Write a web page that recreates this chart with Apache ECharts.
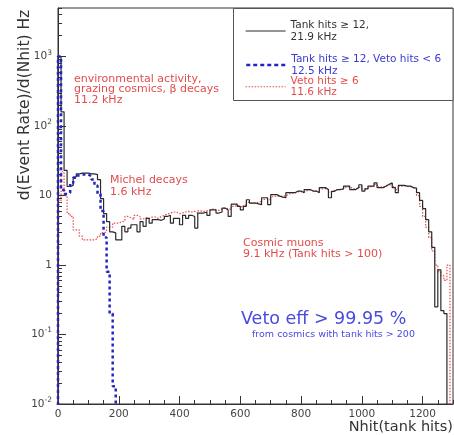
<!DOCTYPE html>
<html><head><meta charset="utf-8">
<script src="https://cdn.jsdelivr.net/npm/echarts@6/dist/echarts.min.js"></script>
<style>html,body{margin:0;padding:0;background:#fff}#c{width:454px;height:435px}</style>
</head><body><div id="c"></div>
<script>
// ---- data (bins of Nhit, width 10 starting at 0) ----
const binStart = 0;
const binWidth = 10;
// Tank hits >= 12
const tankHits = [1000,160,23,13.5,14,18.5,20.5,21,21,21,20.5,20.5,20,17,9,5.5,4.2,3.0,2.9,2.3,
  2.3,3.6,3.0,3.4,3.8,3.8,3.0,4.2,3.6,4.7,4.0,4.5,4.5,4.4,4.6,5.0,5.2,4.0,4.7,4.7,
  3.8,5.2,4.7,5.2,5.0,3.4,5.6,5.6,5.8,5.2,6.2,6.2,5.6,5.8,6.6,6.2,5.0,7.5,7.5,7.0,
  6.2,7.0,8.7,7.8,7.8,7.6,7.4,9.3,9.3,7.4,10.3,10.3,9.8,9.5,9.3,11,11,11,11.6,11.6,
  11,12.2,12.2,11.6,11.6,11,13,13,12.2,9.3,11.5,12.2,12.2,12.5,13.7,13.7,12.2,12.2,13,14.3,
  11.6,12.5,13.7,13.7,15.2,13,13,13.7,14.5,15.2,13,11,14,14,13.7,13.7,13,12.8,11,8.5,
  6.5,4.5,3.0,1.8,0.25,0.85,0.22,0.2];
// Tank hits >= 12, Veto hits < 6
const tankNoVeto = [1000,12,10.5,11,15,18,19.5,20,20,20,19,17,14,10.5,6,2.5,0.8,0.2,0.018];
// Veto hits >= 6
const vetoHits = [8,22,10,5.5,5.0,3.2,3.2,2.6,2.3,2.3,2.3,2.3,2.4,2.6,2.9,3.0,3.5,3.5,4.0,4.0,
  4.2,4.3,5.0,4.8,4.5,5.2,5.0,4.6,4.8,4.7,4.9,4.9,4.7,5.0,5.2,5.4,5.6,5.8,5.8,5.5,
  5.6,5.8,5.9,5.8,5.9,5.6,6.0,5.9,6.0,6.2,6.4,6.3,6.1,6.4,6.6,6.5,6.3,7.0,7.2,7.0,
  6.8,7.3,8.0,7.8,7.9,8.0,8.2,8.8,9.0,8.6,9.6,9.9,9.7,9.8,9.9,10.5,10.8,10.9,11.3,11.4,
  11.2,11.8,12.0,11.7,11.6,11.5,12.5,12.6,12.2,11.2,11.8,12.2,12.3,12.6,13.3,13.4,12.6,12.5,13.0,13.8,
  12.5,12.8,13.4,13.5,14.5,13.3,13.2,13.6,14.2,14.6,13.4,12.2,13.6,13.8,13.5,13.4,12.9,12.5,10,7,
  5,3.5,2.5,1.6,1.0,0.8,0.7,0.6,1.0];

const seriesNames = ['Tank hits \u2265 12', 'Tank hits \u2265 12, Veto hits < 6', 'Veto hits \u2265 6'];
const legendTexts = ['Tank hits \u2265 12,\n21.9 kHz', 'Tank hits \u2265 12, Veto hits < 6\n12.5 kHz', 'Veto hits \u2265 6\n11.6 kHz'];

const xTicks = [0,200,400,600,800,1000,1200];
const xMinorTicks = [50,100,150,250,300,350,450,500,550,650,700,750,850,900,950,1050,1100,1150,1250,1300];
const yTicks = [0.01,0.1,1,10,100,1000];
const yTickLabels = [['10','-2'],['10','-1'],['1',''],['10',''],['10','2'],['10','3']];
const yMinorTicks = [0.02,0.03,0.04,0.05,0.06,0.07,0.08,0.09,0.2,0.3,0.4,0.5,0.6,0.7,0.8,0.9,
  2,3,4,5,6,7,8,9,20,30,40,50,60,70,80,90,200,300,400,500,600,700,800,900,2000,3000,4000,5000];
const xMin = 0, xMax = 1300, yMin = 0.01, yMax = 5000;

// ---- build step histogram points ----
const FLOOR = 1e-4;
function steps(vals) {
  const pts = [[binStart, FLOOR]];
  vals.forEach((v, i) => pts.push([binStart + i * binWidth, v > 0 ? v : FLOOR]));
  const end = binStart + vals.length * binWidth;
  pts.push([end, vals[vals.length - 1] > 0 ? vals[vals.length - 1] : FLOOR]);
  pts.push([end, FLOOR]);
  return pts;
}

const FONT = '"DejaVu Sans", sans-serif';
const RED = '#e34c4c', BLUE = '#2424c0', BLUETXT = '#4a4ade', BLACK = '#2a2a2a';

const chart = echarts.init(document.getElementById('c'), null, {renderer: 'canvas'});
const legendBase = {
  orient: 'vertical', left: 245, itemWidth: 40, itemHeight: 10, itemGap: 4, padding: 0,
  selectedMode: false, z: 10, itemStyle: {opacity: 0}
};
chart.setOption({
  animation: false,
  backgroundColor: '#fff',
  grid: {left: 58, right: 1, top: 8, bottom: 31, show: true, borderColor: '#333', borderWidth: 1,
         backgroundColor: 'transparent', outerBoundsMode: 'none'},
  xAxis: [{
    type: 'value', min: xMin, max: xMax, position: 'bottom',
    axisLine: {show: true, onZero: false, lineStyle: {color: '#333', width: 1}},
    axisTick: {show: true, inside: true, length: 8, customValues: xTicks, lineStyle: {color: '#333'}},
    axisLabel: {show: true, customValues: xTicks, margin: 5, color: '#444', fontSize: 10.5, fontFamily: FONT,
                formatter: v => String(v)},
    splitLine: {show: false}
  }, {
    type: 'value', min: xMin, max: xMax, position: 'bottom',
    axisLine: {show: false},
    axisTick: {show: true, inside: true, length: 4, customValues: xMinorTicks, lineStyle: {color: '#333'}},
    axisLabel: {show: false}, splitLine: {show: false}
  }],
  yAxis: [{
    type: 'log', min: yMin, max: yMax, position: 'left', logBase: 10,
    axisLine: {show: true, onZero: false, lineStyle: {color: '#333', width: 1}},
    axisTick: {show: true, inside: true, length: 8, customValues: yTicks, lineStyle: {color: '#333'}},
    axisLabel: {
      show: true, customValues: yTicks, margin: 6, color: '#444', fontFamily: FONT,
      formatter: function (v) {
        let idx = 0, best = 1e9;
        yTicks.forEach((t, i) => { const d = Math.abs(Math.log10(t) - Math.log10(v)); if (d < best) { best = d; idx = i; } });
        const l = yTickLabels[idx];
        return l[1] ? '{b|' + l[0] + '}{e|' + l[1] + '}' : '{b|' + l[0] + '}';
      },
      rich: {
        b: {fontSize: 10.5, fontFamily: FONT, color: '#444'},
        e: {fontSize: 7.5, fontFamily: FONT, color: '#444', padding: [0, 0, 8, 0]}
      }
    },
    splitLine: {show: false}
  }, {
    type: 'log', min: yMin, max: yMax, position: 'left', logBase: 10,
    axisLine: {show: false},
    axisTick: {show: true, inside: true, length: 4, customValues: yMinorTicks, lineStyle: {color: '#333'}},
    axisLabel: {show: false}, splitLine: {show: false}
  }],
  legend: [
    Object.assign({}, legendBase, {top: 19, data: [seriesNames[0]],
      formatter: () => legendTexts[0],
      lineStyle: {color: BLACK, width: 1.2, type: 'solid'},
      textStyle: {color: '#333', fontSize: 10.5, lineHeight: 12, fontFamily: FONT}}),
    Object.assign({}, legendBase, {top: 53, data: [seriesNames[1]],
      formatter: () => legendTexts[1],
      lineStyle: {color: BLUE, width: 2.5, type: [4, 3]},
      textStyle: {color: '#3a3ad0', fontSize: 10.5, lineHeight: 12, fontFamily: FONT}}),
    Object.assign({}, legendBase, {top: 76, data: [seriesNames[2]],
      formatter: () => legendTexts[2],
      lineStyle: {color: RED, width: 1.2, type: [1.5, 1.5]},
      textStyle: {color: RED, fontSize: 10.5, lineHeight: 10.5, fontFamily: FONT}})
  ],
  graphic: [
    {type: 'rect', z: 3, shape: {x: 233.5, y: 8.5, width: 219.5, height: 92},
     style: {fill: '#fff', stroke: '#555', lineWidth: 1}},
    {type: 'text', z: 5, x: 74, y: 73.5, style: {text: 'environmental activity,\ngrazing cosmics, \u03b2 decays\n11.2 kHz',
      fill: RED, font: '11px ' + FONT, lineHeight: 10.5, verticalAlign: 'top', align: 'left'}},
    {type: 'text', z: 5, x: 110, y: 174, style: {text: 'Michel decays\n1.6 kHz',
      fill: RED, font: '11px ' + FONT, lineHeight: 12, verticalAlign: 'top', align: 'left'}},
    {type: 'text', z: 5, x: 243, y: 237.5, style: {text: 'Cosmic muons\n9.1 kHz (Tank hits > 100)',
      fill: RED, font: '11px ' + FONT, lineHeight: 11, verticalAlign: 'top', align: 'left'}},
    {type: 'text', z: 5, x: 241, y: 319, style: {text: 'Veto eff > 99.95 %',
      fill: BLUETXT, font: '17.5px ' + FONT, verticalAlign: 'middle', align: 'left'}},
    {type: 'text', z: 5, x: 252, y: 335, style: {text: 'from cosmics with tank hits > 200',
      fill: BLUETXT, font: '9.5px ' + FONT, verticalAlign: 'middle', align: 'left'}},
    {type: 'text', z: 5, x: 25, y: 105, rotation: Math.PI / 2, style: {text: 'd(Event Rate)/d(Nhit) Hz',
      fill: '#333', font: '15.5px ' + FONT, verticalAlign: 'middle', align: 'center'}},
    {type: 'text', z: 5, x: 453, y: 427, style: {text: 'Nhit(tank hits)',
      fill: '#333', font: '14.5px ' + FONT, verticalAlign: 'middle', align: 'right'}}
  ],
  series: [
    {name: seriesNames[2], type: 'line', step: 'end', symbol: 'none', clip: true, z: 2,
     data: steps(vetoHits), lineStyle: {color: RED, width: 1.2, type: [1.5, 1.5]}, itemStyle: {color: RED}},
    {name: seriesNames[0], type: 'line', step: 'end', symbol: 'none', clip: true, z: 3,
     data: steps(tankHits), lineStyle: {color: BLACK, width: 1.2}, itemStyle: {color: BLACK}},
    {name: seriesNames[1], type: 'line', step: 'end', symbol: 'none', clip: true, z: 4,
     data: steps(tankNoVeto), lineStyle: {color: BLUE, width: 2.5, type: [3, 3]}, itemStyle: {color: BLUE}}
  ]
});
</script></body></html>
